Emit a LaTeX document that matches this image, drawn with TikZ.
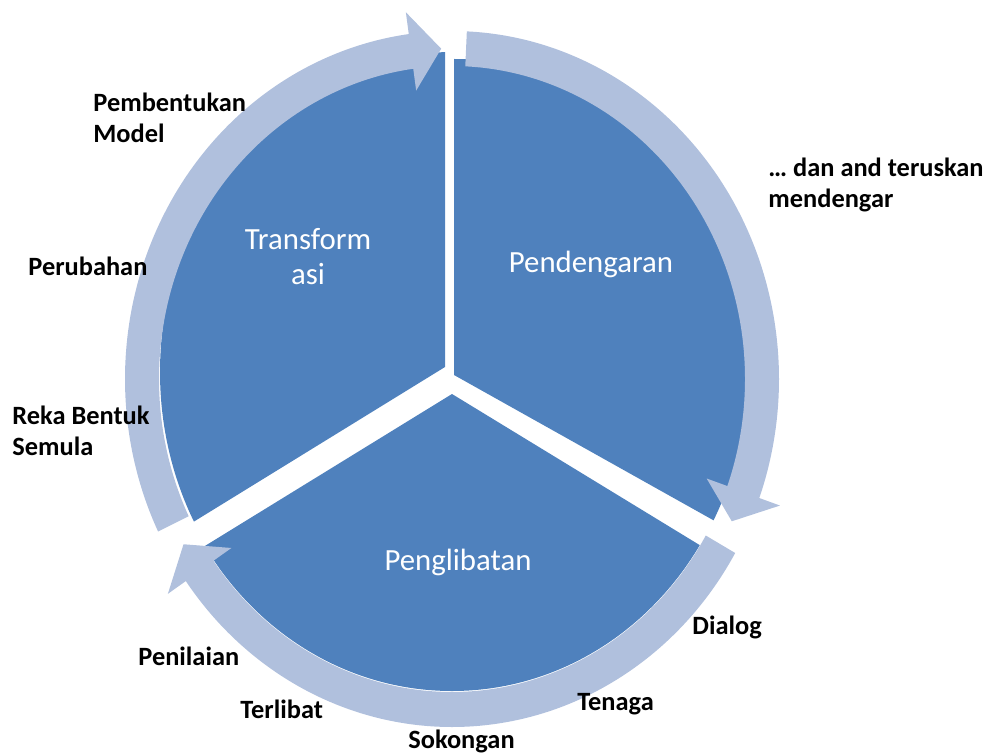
\documentclass[tikz,border=0pt]{standalone}
\usepackage{fontspec}
\setmainfont{Carlito}

\definecolor{pieblue}{RGB}{79,129,189}
\definecolor{ringblue}{RGB}{176,192,221}

\tikzset{
    sector/.style={fill=pieblue},
    ringarrow/.style={fill=ringblue},
    inlabel/.style={text=white, align=center, inner sep=0pt, font=\fontsize{15.4}{17.5}\selectfont},
    outlabel/.style={anchor=west, align=left, inner sep=0pt, font=\bfseries\fontsize{13.2}{15.5}\selectfont}
}

\begin{document}
\begin{tikzpicture}[x=0.5pt, y=-0.5pt]
        \useasboundingbox (0,0) rectangle (988,753);

        % Draw the three sectors
        \begin{scope}
            \clip (453,372) ellipse [x radius=293, y radius=320];
            \fill[sector] (445,367) -- (445,0) -- (0,0) -- (0,641) -- cycle;
        \end{scope}
        \begin{scope}
            \clip (454,374) ellipse [x radius=293, y radius=315];
            \fill[sector] (454,375) -- (454,0) -- (988,0) -- (988,674) -- cycle;
        \end{scope}
        \begin{scope}
            \clip (452,378) ellipse [x radius=293, y radius=313];
            \fill[sector] (452,394) -- (0,672) -- (0,753) -- (988,753) -- (988,721) -- cycle;
        \end{scope}

        % Draw the ring of arrows
        \begin{scope}[shift={(452,379)}]
            \fill[ringarrow] (154:327 and 348) arc[start angle=154, end angle=262.4, x radius=327, y radius=348]
                -- (262.4:349 and 370) -- (268:310 and 330.5) -- (262.4:271 and 291)
                -- (262.4:293 and 313) arc[start angle=262.4, end angle=154, x radius=293, y radius=313] -- cycle;
            \fill[ringarrow] (272.6:327 and 348) arc[start angle=272.6, end angle=380, x radius=327, y radius=348]
                -- (380:349 and 370) -- (385.5:310 and 330.5) -- (380:271 and 291)
                -- (380:293 and 313) arc[start angle=380, end angle=272.6, x radius=293, y radius=313] -- cycle;
            \fill[ringarrow] (30:327 and 348) arc[start angle=30, end angle=144.5, x radius=327, y radius=348]
                -- (144.5:349 and 370) -- (150:310 and 330.5) -- (144.5:271 and 291)
                -- (144.5:293 and 313) arc[start angle=144.5, end angle=30, x radius=293, y radius=313] -- cycle;
        \end{scope}

        % Labels inside the sectors
        \node[inlabel] (transformasi) at (308,257) {Transform\\asi};
        \node[inlabel] (pendengaran) at (591,264) {Pendengaran};
        \node[inlabel] (penglibatan) at (458,562) {Penglibatan};

        % Labels round the ring
        \node[outlabel] (pembentukan) at (93,118) {Pembentukan\\Model};
        \node[outlabel] (perubahan) at (28,266) {Perubahan};
        \node[outlabel] (rekabentuk) at (12,431) {Reka Bentuk\\Semula};
        \node[outlabel] (teruskan) at (768,185) {… dan and teruskan\\mendengar};
        \node[outlabel] (dialog) at (692,627) {Dialog};
        \node[outlabel] (tenaga) at (577,704) {Tenaga};
        \node[outlabel] (sokongan) at (408,741) {Sokongan};
        \node[outlabel] (terlibat) at (240,709) {Terlibat};
        \node[outlabel] (penilaian) at (138,656) {Penilaian};
    \end{tikzpicture}
\end{document}
